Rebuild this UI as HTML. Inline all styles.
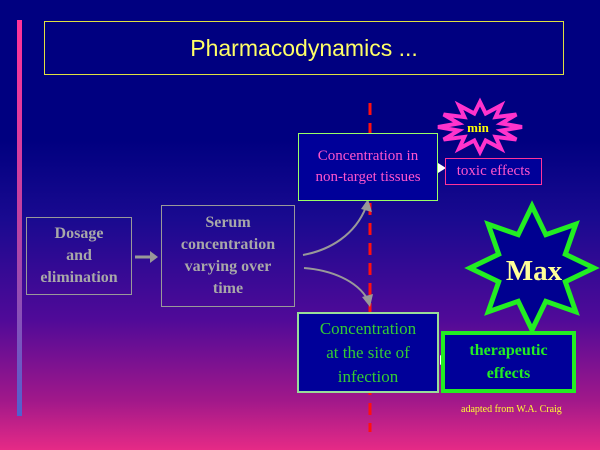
<!DOCTYPE html>
<html><head><style>
html,body{margin:0;padding:0}
body{width:600px;height:450px;position:relative;overflow:hidden;font-family:"Liberation Serif",serif;
background:linear-gradient(to bottom,#000080 0px,#000080 140px,#1a0a90 220px,#500a98 320px,#a0188a 400px,#e62a86 450px);}
.box{position:absolute;box-sizing:border-box;display:flex;align-items:center;justify-content:center;text-align:center;}
</style></head><body>
<div style="position:absolute;left:17px;top:20px;width:5px;height:396px;background:linear-gradient(#ff3399,#c040a0 50%,#5060d0)"></div>
<div class="box" style="left:44px;top:21px;width:520px;height:54px;border:1px solid #e0e040;color:#ffff66;font-family:'Liberation Sans',sans-serif;font-size:23px;">Pharmacodynamics ...</div>
<svg width="600" height="450" style="position:absolute;left:0;top:0">
<line x1="370" y1="103" x2="370" y2="432" stroke="#ff1010" stroke-width="3" stroke-dasharray="12,8"/>
<path d="M135,257 L150,257" stroke="#999" stroke-width="3"/>
<polygon points="150,251 158,257 150,263" fill="#999"/>
<path d="M303,255 C330,250 355,235 366,207" stroke="#999" stroke-width="2" fill="none"/>
<polygon points="361,209 368,199 372,212" fill="#999"/>
<path d="M304,268 C330,270 357,280 368,300" stroke="#999" stroke-width="2" fill="none"/>
<polygon points="362,297 370,307 373,294" fill="#999"/>
<polygon points="522,127 501.3,130.6 516.4,139.5 495.6,136.9 501,148.7 485.7,140.5 480,152 474.3,140.5 459,148.7 464.4,136.9 443.6,139.5 458.7,130.6 438,127 458.7,123.4 443.6,114.5 464.4,117.1 459,105.3 474.3,113.5 480,102 485.7,113.5 501,105.3 495.6,117.1 516.4,114.5 501.3,123.4" fill="#000080" stroke="#ff33cc" stroke-width="4" stroke-linejoin="miter"/>
<text x="478" y="132" fill="#ffff00" font-weight="bold" font-size="13" text-anchor="middle" font-family="Liberation Serif">min</text>
<polygon points="532,206 545.8,234.7 575.8,224.2 565.3,254.2 594,268 565.3,281.8 575.8,311.8 545.8,301.3 532,330 518.2,301.3 488.2,311.8 498.7,281.8 470,268 498.7,254.2 488.2,224.2 518.2,234.7" fill="#000090" stroke="#22ee22" stroke-width="5" stroke-linejoin="miter"/>
<text x="534" y="280" fill="#ffff99" font-weight="bold" font-size="29" text-anchor="middle" font-family="Liberation Serif">Max</text>
<polygon points="438,163 446,168 438,173" fill="#fff"/>
<polygon points="440,355 448,360 440,365" fill="#fff"/>
</svg>
<div class="box" style="left:26px;top:217px;width:106px;height:78px;border:1px solid #999;color:#a8a8a8;font-weight:bold;font-size:16px;line-height:22px;">Dosage<br>and<br>elimination</div>
<div class="box" style="left:161px;top:205px;width:134px;height:102px;border:1px solid #999;color:#a8a8a8;font-weight:bold;font-size:16px;line-height:22px;">Serum<br>concentration<br>varying over<br>time</div>
<div class="box" style="left:298px;top:133px;width:140px;height:68px;border:1px solid #99ff66;background:#000099;color:#ff55cc;font-size:15px;line-height:21px;">Concentration in<br>non-target tissues</div>
<div class="box" style="left:445px;top:158px;width:97px;height:27px;border:1px solid #ff3399;background:#000099;color:#ff55cc;font-size:15px;">toxic effects</div>
<div class="box" style="left:297px;top:312px;width:142px;height:81px;border:2px solid #99dd99;background:#000099;color:#33cc33;font-size:17px;line-height:24px;">Concentration<br>at the site of<br>infection</div>
<div class="box" style="left:441px;top:331px;width:135px;height:62px;border:4px solid #22ee22;background:#000099;color:#22ee22;font-weight:bold;font-size:16px;line-height:23px;">therapeutic<br>effects</div>
<div style="position:absolute;left:461px;top:404px;color:#ffff33;font-size:10px;">adapted from W.A. Craig</div>
</body></html>
